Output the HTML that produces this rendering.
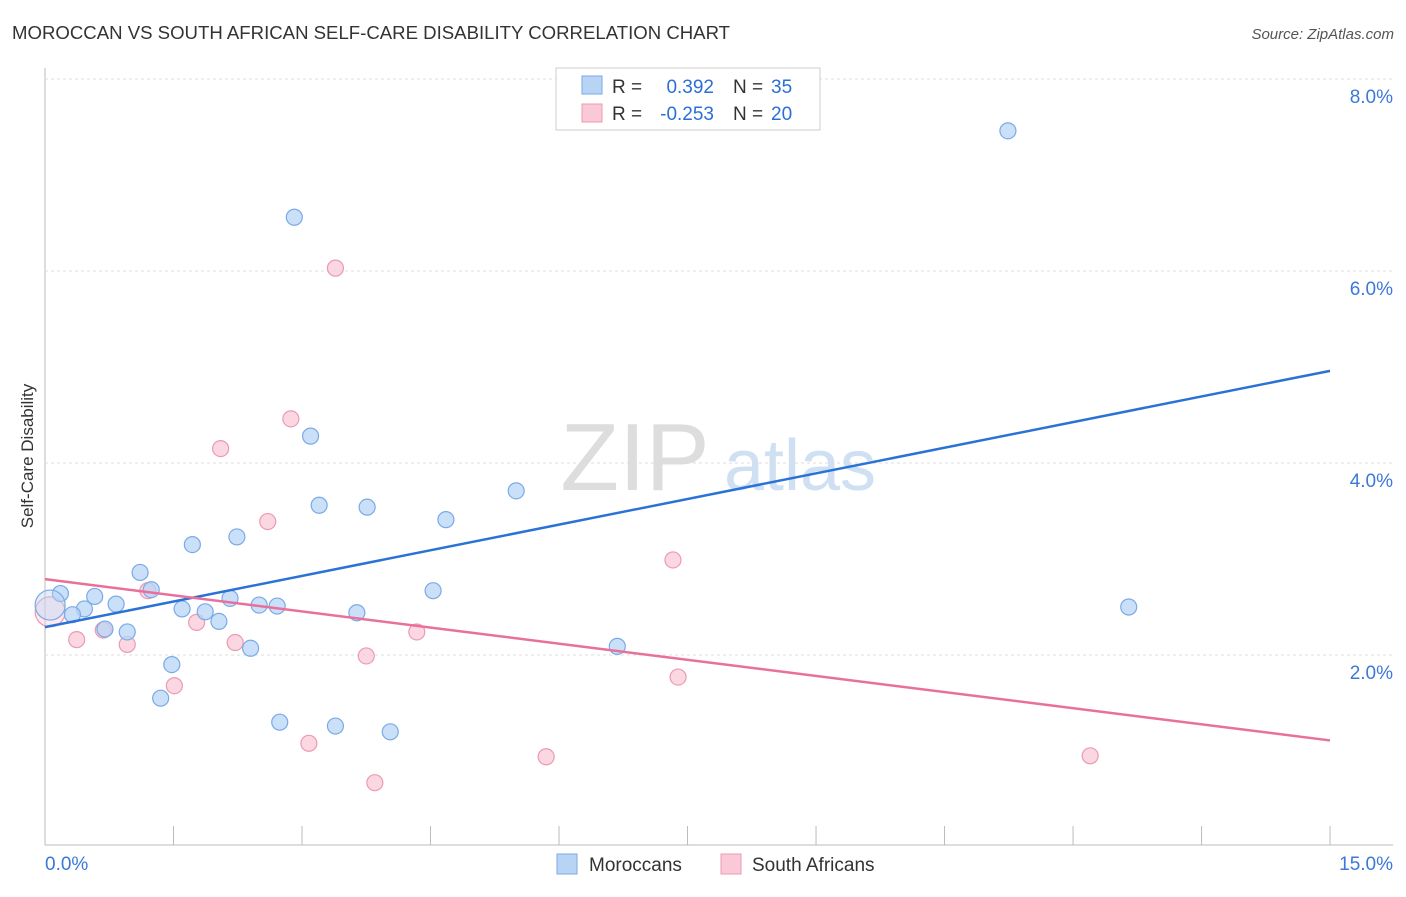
<!DOCTYPE html>
<html><head><meta charset="utf-8"><style>
body{margin:0;background:#fff;font-family:"Liberation Sans",sans-serif;}
svg text{font-family:"Liberation Sans",sans-serif;}
</style></head><body>
<svg id="c" width="1406" height="892">
<text x="12" y="39" font-size="18.6" fill="#333">MOROCCAN VS SOUTH AFRICAN SELF-CARE DISABILITY CORRELATION CHART</text>
<text x="1394" y="39" font-size="15" fill="#555" font-style="italic" text-anchor="end">Source: ZipAtlas.com</text>
<text x="33" y="456" font-size="17" fill="#333" text-anchor="middle" transform="rotate(-90 33 456)">Self-Care Disability</text>
<g><text x="635" y="490" font-size="96" fill="#ddd" font-family="Liberation Serif" text-anchor="middle">ZIP</text><text x="800" y="490" font-size="72" fill="#cfe0f3" text-anchor="middle">atlas</text></g>
<g id="grid"></g><g id="marks"></g>
<g>
<rect x="556" y="68" width="264" height="62" fill="#fff" stroke="#ccc"/>
<rect x="582" y="76" width="20" height="18" fill="#b8d4f5" stroke="#7aaae6"/>
<text x="612" y="93" font-size="19" fill="#333">R =</text>
<text x="714" y="93" font-size="19" fill="#2a6fd6" text-anchor="end">0.392</text>
<text x="733" y="93" font-size="19" fill="#333">N =</text>
<text x="771" y="93" font-size="19" fill="#2a6fd6">35</text>
<rect x="582" y="104" width="20" height="18" fill="#f9c9d7" stroke="#ec9ab2"/>
<text x="612" y="120" font-size="19" fill="#333">R =</text>
<text x="714" y="120" font-size="19" fill="#2a6fd6" text-anchor="end">-0.253</text>
<text x="733" y="120" font-size="19" fill="#333">N =</text>
<text x="771" y="120" font-size="19" fill="#2a6fd6">20</text>
</g>
<g>
<rect x="557" y="854" width="20" height="20" fill="#b8d4f5" stroke="#7aaae6"/><text x="589" y="871" font-size="19" fill="#333">Moroccans</text>
<rect x="721" y="854" width="20" height="20" fill="#f9c9d7" stroke="#ec9ab2"/><text x="752" y="871" font-size="19" fill="#333">South Africans</text>
</g>
</svg>
<script>
const moroccanX=[11.24,2.91,3.10,3.20,3.76,4.68,5.50,1.72,2.24,1.11,1.24,0.18,0.58,0.46,0.32,0.83,1.60,1.87,2.03,2.16,2.50,2.71,3.64,4.53,0.70,0.96,2.40,6.68,1.48,1.35,2.74,3.39,4.03,12.65,0.06];
const moroccanY=[7.46,6.56,4.28,3.56,3.54,3.41,3.71,3.15,3.23,2.86,2.68,2.64,2.61,2.48,2.42,2.53,2.48,2.45,2.35,2.59,2.52,2.51,2.44,2.67,2.27,2.24,2.07,2.09,1.90,1.55,1.30,1.26,1.20,2.50,2.52];
const saX=[3.39,2.87,2.05,2.60,7.33,1.20,1.77,0.68,0.96,0.37,2.22,4.34,3.75,1.51,7.39,3.08,5.85,3.85,12.20,0.06];
const saY=[6.03,4.46,4.15,3.39,2.99,2.67,2.34,2.26,2.11,2.16,2.13,2.24,1.99,1.68,1.77,1.08,0.94,0.67,0.95,2.45];
const moroccanTrend=[2.29,4.96];
const saTrend=[2.79,1.11];
const yTicks=[2,4,6,8];
const yTickLabels=["2.0%","4.0%","6.0%","8.0%"];
const xTicks=[0,1.5,3,4.5,6,7.5,9,10.5,12,13.5,15];
const xs=v=>45+v*85.67, ys=v=>847-v*96;
const NS="http://www.w3.org/2000/svg";
const g=document.getElementById('grid'), m=document.getElementById('marks');
function el(t,a,p){const e=document.createElementNS(NS,t);for(const k in a)e.setAttribute(k,a[k]);p.appendChild(e);return e;}
let e;
e=el('line',{x1:45,y1:68,x2:45,y2:845,stroke:'#bbb'},g);


e=el('line',{x1:45,y1:845,x2:1393,y2:845,stroke:'#bbb'},g);


yTicks.forEach((t,i)=>{
 e=el('line',{x1:45,y1:ys(t),x2:1393,y2:ys(t),stroke:'#ddd','stroke-dasharray':'3,3'},g);
 
 
 e=el('text',{x:1393,y:ys(t)+24,'font-size':19,fill:'#3b78d8','text-anchor':'end'},g);e.textContent=yTickLabels[i];
 
 
});
e=el('line',{x1:45,y1:79,x2:1393,y2:79,stroke:'#ddd','stroke-dasharray':'3,3'},g);
xTicks.forEach(t=>{if(t===0)return;
 e=el('line',{x1:xs(t),y1:826,x2:xs(t),y2:845,stroke:'#bbb'},g);
 
 
});
e=el('text',{x:45,y:870,'font-size':19,fill:'#3b78d8'},g);e.textContent="0.0%";


e=el('text',{x:1393,y:870,'font-size':19,fill:'#3b78d8','text-anchor':'end'},g);e.textContent="15.0%";


function pts(X,Y,fill,stroke,name){X.forEach((x,i)=>{
 const big=i===X.length-1;
 e=el('circle',{cx:xs(x),cy:ys(Y[i]),r:big?15:8,fill:fill,stroke:stroke,'stroke-width':1.2,'fill-opacity':big?0.4:0.75},m);
 
 
});}
pts(saX,saY,'#f9c9d7','#ec9ab2','south-african-point');
pts(moroccanX,moroccanY,'#b8d4f5','#7aaae6','moroccan-point');
e=el('line',{x1:xs(0),y1:ys(moroccanTrend[0]),x2:xs(15),y2:ys(moroccanTrend[1]),stroke:'#2a72d6','stroke-width':2.5},m);


e=el('line',{x1:xs(0),y1:ys(saTrend[0]),x2:xs(15),y2:ys(saTrend[1]),stroke:'#e8709a','stroke-width':2.5},m);


</script>
</body></html>
